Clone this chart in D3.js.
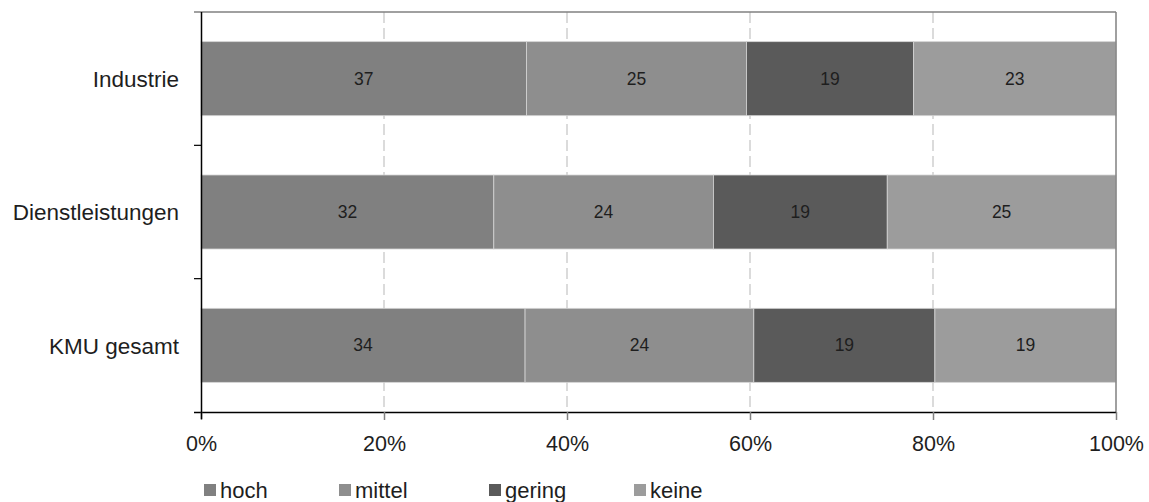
<!DOCTYPE html>
<html><head><meta charset="utf-8">
<script src="https://cdn.jsdelivr.net/npm/d3@7"></script>
<style>body{margin:0;background:#fff;} svg{display:block;}</style>
</head><body>
<svg id="c" width="1149" height="502"></svg>
<script>
const categories = ["Industrie", "Dienstleistungen", "KMU gesamt"];
const seriesNames = ["hoch", "mittel", "gering", "keine"];
const hoch = [37, 32, 34];
const mittel = [25, 24, 24];
const gering = [19, 19, 19];
const keine = [23, 25, 19];
const colors = ["#808080", "#8e8e8e", "#5a5a5a", "#9c9c9c"];
const tickValues = [0, 0.2, 0.4, 0.6, 0.8, 1];

const FONT = "'Liberation Sans', Arial, sans-serif";
const svg = d3.select("#c");
const m = {l: 201, r: 1116, t: 12, b: 412};
const x = d3.scaleLinear().domain([0, 1]).range([m.l, m.r]);
const y = d3.scaleBand().domain(categories).range([m.t, m.b]).paddingInner(0.445).paddingOuter(0.2225);
const yb = d3.scaleBand().domain(categories).range([m.t, m.b]);

const series = [hoch, mittel, gering, keine];
const rows = categories.map((c, i) => {
  const r = {cat: c};
  seriesNames.forEach((s, j) => r[s] = series[j][i]);
  return r;
});
const stack = d3.stack().keys(seriesNames).offset(d3.stackOffsetExpand);
const stacked = stack(rows);

// gridlines
svg.append("g").selectAll("line").data(tickValues.filter(v => v > 0 && v < 1)).join("line")
  .attr("x1", d => x(d)).attr("x2", d => x(d)).attr("y1", m.t).attr("y2", m.b)
  .attr("stroke", "#c8c8c8").attr("stroke-width", 1.3).attr("stroke-dasharray", "11,5");

// bars
const g = svg.append("g");
stacked.forEach((s, j) => {
  g.append("g").selectAll("rect").data(s).join("rect")
    .attr("x", d => x(d[0])).attr("width", d => x(d[1]) - x(d[0]))
    .attr("y", d => y(d.data.cat)).attr("height", y.bandwidth())
    .attr("fill", colors[j]).attr("stroke", "#d4d4d4").attr("stroke-width", 0.8);
  g.append("g").selectAll("text").data(s).join("text")
    .attr("x", d => (x(d[0]) + x(d[1])) / 2).attr("y", d => y(d.data.cat) + y.bandwidth() / 2 + 6)
    .attr("text-anchor", "middle")
    .attr("font-family", FONT).attr("font-size", 17.5).attr("fill", "#1e1e1e")
    .text(d => d.data[seriesNames[j]]);
});

// frame top and right
svg.append("line").attr("x1", 194).attr("x2", m.r).attr("y1", m.t).attr("y2", m.t).attr("stroke", "#808080").attr("stroke-width", 1.5);
svg.append("line").attr("x1", m.r).attr("x2", m.r).attr("y1", m.t).attr("y2", m.b).attr("stroke", "#808080").attr("stroke-width", 1.5);

// x axis
const xAxis = svg.append("g").attr("transform", `translate(0,${m.b})`)
  .call(d3.axisBottom(x).tickValues(tickValues).tickFormat(d3.format(".0%")).tickSize(8).tickSizeOuter(0));
xAxis.select(".domain").attr("stroke", "#000").attr("stroke-width", 1.5).attr("d", `M${194},0.5H${m.r}`);
xAxis.selectAll(".tick line").attr("stroke", "#808080").attr("stroke-width", 1.5);
xAxis.selectAll(".tick text").attr("y", 39).attr("dy", null)
  .attr("font-family", FONT).attr("font-size", 21.5).attr("fill", "#1e1e1e");

// y axis
const yAxis = svg.append("g").attr("transform", `translate(${m.l},0)`)
  .call(d3.axisLeft(yb).tickSize(0).tickPadding(22));
yAxis.select(".domain").attr("stroke", "#000").attr("stroke-width", 1.5).attr("d", `M0.5,${m.t}V${m.b + 7}`);
yAxis.selectAll(".tick text").attr("dy", "8.3px")
  .attr("font-family", FONT).attr("font-size", 22.5).attr("fill", "#1e1e1e");
// category boundary ticks
const bounds = categories.map(c => yb(c)).concat([m.b]);
svg.append("g").selectAll("line").data(bounds.slice(1, 3)).join("line")
  .attr("x1", 194).attr("x2", m.l).attr("y1", d => d).attr("y2", d => d)
  .attr("stroke", "#000").attr("stroke-width", 1.2);

// legend
const legX = [204, 339, 489, 634];
const leg = svg.append("g").selectAll("g").data(seriesNames).join("g")
  .attr("transform", (d, i) => `translate(${legX[i]},484)`);
leg.append("rect").attr("width", 12).attr("height", 12).attr("fill", (d, i) => colors[i]);
leg.append("text").attr("x", 16).attr("y", 14)
  .attr("font-family", FONT).attr("font-size", 22).attr("fill", "#1e1e1e").text(d => d);
</script>
</body></html>
